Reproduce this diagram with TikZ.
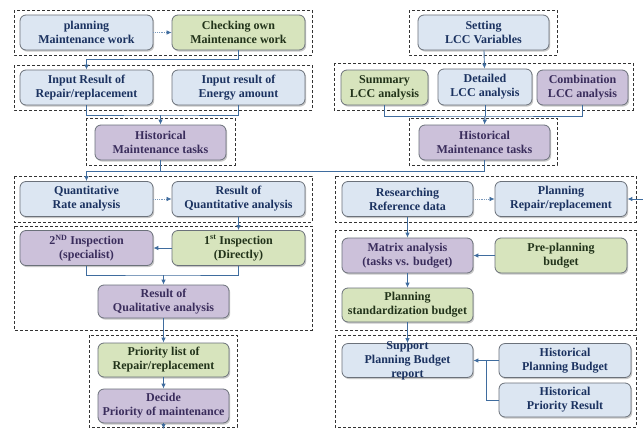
\documentclass[tikz,border=0pt]{standalone}
\usepackage{fontspec}
\setmainfont{Liberation Serif}
\usetikzlibrary{arrows.meta,shadows}
\definecolor{bfill}{HTML}{DCE6F2}
\definecolor{gfill}{HTML}{D7E4BD}
\definecolor{pfill}{HTML}{CCC1DA}
\definecolor{bordc}{HTML}{6B717A}
\definecolor{btext}{HTML}{1B3260}
\definecolor{gtext}{HTML}{22331A}
\definecolor{ptext}{HTML}{3A2D5C}
\definecolor{lineblue}{HTML}{3F6C9E}
\tikzset{
  bx/.style={rounded corners=6pt, draw=bordc, line width=0.8pt, align=center,
    font=\fontsize{12}{14}\selectfont\bfseries, inner sep=1pt,
    minimum width=133pt, minimum height=35pt,
    drop shadow={shadow xshift=1.2pt, shadow yshift=-1.6pt, opacity=0.3, fill=black!70}},
  blu/.style={bx, fill=bfill, text=btext},
  grn/.style={bx, fill=gfill, text=gtext},
  pur/.style={bx, fill=pfill, text=ptext},
  txt/.style={align=center, font=\fontsize{12}{14}\selectfont\bfseries, text=btext, inner sep=0pt},
  frame/.style={draw=black!80, line width=0.9pt, dash pattern=on 3pt off 2pt},
  link/.style={draw=lineblue, line width=0.9pt},
  conn/.style={link, -{Latex[length=5pt,width=4.5pt]}},
  softconn/.style={draw=lineblue!70, line width=0.7pt, dash pattern=on 1pt off 0.8pt,
    -{Latex[length=5pt,width=4.5pt,fill=lineblue,color=lineblue]}}
}
\begin{document}
\begin{tikzpicture}[x=1pt,y=-1pt]
\useasboundingbox[fill=white] (0,0) rectangle (643,429);
% frames
\draw[frame] (14,10) rectangle (312,55);
\draw[frame] (14,65) rectangle (312,110);
\draw[frame] (86,118) rectangle (235,165);
\draw[frame] (14,176) rectangle (312,222);
\draw[frame] (14,226) rectangle (312,330);
\draw[frame] (89,335) rectangle (237,427);
\draw[frame] (409,10) rectangle (557,55);
\draw[frame] (334,63) rectangle (633,110);
\draw[frame] (409,118) rectangle (557,165);
\draw[frame] (335,176) rectangle (636,222);
\draw[frame] (335,230) rectangle (636,330);
\draw[frame] (335,335) rectangle (636,427);
% left column
\node[blu] (plan) at (86.5,32.5) {planning\\Maintenance work};
\node[grn] (check) at (238.5,32.5) {Checking own\\Maintenance work};
\node[blu] (inrep) at (86.5,87.5) {Input Result of\\Repair/replacement};
\node[blu] (inen) at (238.5,87.5) {Input result of\\Energy amount};
\node[pur, minimum width=131pt] (histL) at (160.5,142.5) {Historical\\Maintenance tasks};
\node[blu] (quant) at (86.5,199) {Quantitative\\Rate analysis};
\node[blu] (resq) at (238.5,199) {Result of\\Quantitative analysis};
\node[pur] (insp2) at (86.5,248) {2\textsuperscript{ND} Inspection\\(specialist)};
\node[grn] (insp1) at (238.5,248) {1\textsuperscript{st} Inspection\\(Directly)};
\node[pur, minimum width=131pt, minimum height=33pt] (qual) at (163.5,301.5) {Result of\\Qualitative analysis};
\node[grn, minimum width=131pt, minimum height=34pt] (prio) at (163.5,360) {Priority list of\\Repair/replacement};
\node[pur, minimum width=131pt, minimum height=34pt] (decide) at (163.5,406) {Decide\\Priority of maintenance};
% right column
\node[blu, minimum width=131pt] (setting) at (483.5,32.5) {Setting\\LCC Variables};
\node[grn, minimum width=87pt] (summary) at (384.5,87.5) {Summary\\LCC analysis};
\node[blu, minimum width=94pt, minimum height=36pt] (detailed) at (485,87) {Detailed\\LCC analysis};
\node[pur, minimum width=91pt] (comb) at (582.5,87.5) {Combination\\LCC analysis};
\node[pur, minimum width=131pt] (histR) at (484.5,142.5) {Historical\\Maintenance tasks};
\node[blu, minimum width=131pt] (research) at (407.5,199) {Researching\\Reference data};
\node[blu, minimum width=132pt] (planrep) at (561,199) {Planning\\Repair/replacement};
\node[pur, minimum width=131pt] (matrix) at (407.5,255.5) {Matrix analysis\\(tasks vs. budget)};
\node[grn, minimum width=132pt] (pre) at (561,255.5) {Pre-planning\\budget};
\node[grn, minimum width=131pt, minimum height=34pt] (std) at (407.5,305) {Planning\\standardization budget};
\node[blu, minimum width=131pt, minimum height=34pt] (support) at (407.5,360.5) {};
\node[txt] (supporttxt) at (407.5,361) {Support\\Planning Budget\\report};
\node[blu, minimum width=132pt, minimum height=34pt] (hpb) at (565,360.5) {Historical\\Planning Budget};
\node[blu, minimum width=132pt, minimum height=34pt] (hpr) at (565,400) {Historical\\Priority Result};
% coordinates
\coordinate (j1) at (160.5,115);
\coordinate (j2) at (86.5,171);
\coordinate (j3) at (163.5,275);
\coordinate (j4) at (485,116);
\coordinate (j5) at (486,360.5);
\coordinate (inR) at (643,199);
\coordinate (outB) at (163.5,429);
% left connectors
\draw[softconn] (plan) -- (check);
\draw[conn] (check.south) -- ++(0,9) -| (inrep.north);
\draw[link] (inrep.south) |- (j1) -| (inen.south);
\draw[conn] (j1) -- (histL.north);
\draw[link] (histR.south) |- (j2);
\draw[link] (histL.south) -- (histL.south |- j2);
\draw[conn] (j2) -- (quant.north);
\draw[softconn] (quant) -- (resq);
\draw[conn] (resq) -- (insp1);
\draw[conn] (insp1) -- (insp2);
\draw[link] (insp2.south) |- (j3) -| (insp1.south);
\draw[conn] (j3) -- (qual.north);
\draw[conn] (qual) -- (prio);
\draw[conn] (prio) -- (decide);
\draw[conn] (decide.south) -- (outB);
% right connectors
\draw[conn] (setting) -- (detailed);
\draw[link] (summary.south) |- (j4) -| (comb.south);
\draw[link] (detailed.south) -- (j4);
\draw[conn] (j4) -- (histR.north);
\draw[softconn] (research) -- (planrep);
\draw[conn] (inR) -- (planrep.east);
\draw[conn] (research.south) -- (matrix.north);
\draw[conn] (pre) -- (matrix);
\draw[conn] (matrix) -- (std);
\draw[conn] (std.south) -- (support.north);
\draw[link] (hpb.west) -- (j5);
\draw[link] (hpr.west) -| (j5);
\draw[conn] (j5) -- (support.east);
\end{tikzpicture}
\end{document}
